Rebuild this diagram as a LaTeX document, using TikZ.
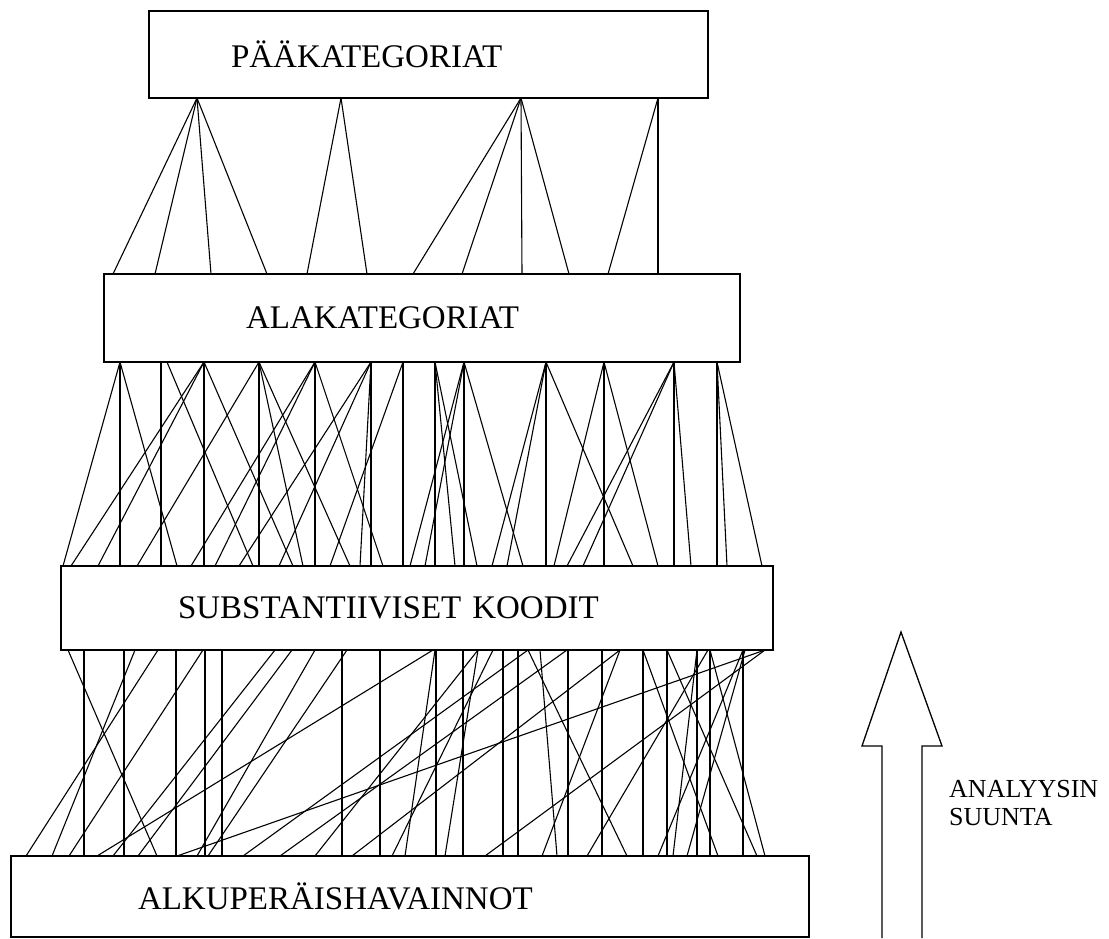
\documentclass[tikz,border=0pt]{standalone}
\usepackage{fontspec}
\setmainfont{Liberation Serif}

\tikzset{
	laatikko/.style={draw, line width=1.5pt, rectangle, anchor=north west, inner ysep=0pt, outer sep=0pt, align=left, font=\fontsize{33}{36}\selectfont},
	viiva/.style={line width=1.1pt}
}

\begin{document}
\begin{tikzpicture}[x=1pt,y=-1pt]
			%%%%% START %%%%%
			\useasboundingbox (0,0) rectangle (1109,938);
			
			\node[laatikko, inner xsep=82pt, text width=395pt, minimum height=87pt] (pk) at (149,11) {PÄÄKATEGORIAT};
			\node[laatikko, inner xsep=142pt, text width=352pt, minimum height=88pt] (ak) at (104,274) {ALAKATEGORIAT};
			\node[laatikko, inner xsep=117pt, text width=478pt, minimum height=84pt] (sk) at (61,566) {SUBSTANTIIVISET KOODIT};
			\node[laatikko, inner xsep=127pt, text width=544pt, minimum height=81pt] (ah) at (11,856) {ALKUPERÄISHAVAINNOT};
			
			% paakategoriat -> alakategoriat
			\foreach \yl/\al in {197/113, 197/155, 197/211, 197/267, 341/307, 341/367,
				521/413, 521/462, 521/522, 521/569, 658/608, 658/658}
				\draw[viiva] (\yl,0 |- pk.south) -- (\al,0 |- ak.north);
			
			% alakategoriat -> substantiiviset koodit
			\foreach \x in {120, 161, 204, 259, 315, 371, 403, 435, 464, 546, 604, 674, 717}
				\draw[viiva] (\x,0 |- ak.south) -- (\x,0 |- sk.north);
			\foreach \yl/\al in {120/63, 120/177, 167/253, 204/71, 204/98, 204/293, 259/137, 259/303, 259/350,
				315/191, 315/215, 315/383, 371/239, 371/279, 371/360, 403/330, 435/455, 435/477,
				464/410, 464/425, 464/523, 546/492, 546/507, 546/633, 604/554, 604/658,
				674/567, 674/583, 674/691, 717/727, 717/762}
				\draw[viiva] (\yl,0 |- ak.south) -- (\al,0 |- sk.north);
			
			% substantiiviset koodit -> alkuperaishavainnot
			\foreach \x in {84, 124, 176, 205, 222, 342, 380, 436, 463, 503, 518, 568, 602, 643, 667, 697, 710, 743}
				\draw[viiva] (\x,0 |- sk.south) -- (\x,0 |- ah.north);
			\foreach \yl/\al in {68/157, 135/52, 158/26, 203/69, 275/113, 292/138, 315/197, 347/208,
				433/97, 478/315, 528/243, 567/280, 620/352, 765/177, 765/485, 493/392, 435/405,
				528/627, 708/587, 743/658, 643/718, 667/757, 697/673, 620/542, 745/687,
				478/445, 540/557, 710/765}
				\draw[viiva] (\yl,0 |- sk.south) -- (\al,0 |- ah.north);
			
			% analyysin suunta
			\draw[line width=1.3pt] (882,938) -- (882,746) -- (862,746) -- (901,632) -- (942,746) -- (922,746) -- (922,938);
			\node[anchor=base west, align=left, inner sep=0pt, font=\fontsize{26}{28}\selectfont] (suunta) at (949,825) {ANALYYSIN\\SUUNTA};
			
			%%%%% END %%%%%
\end{tikzpicture}
\end{document}
